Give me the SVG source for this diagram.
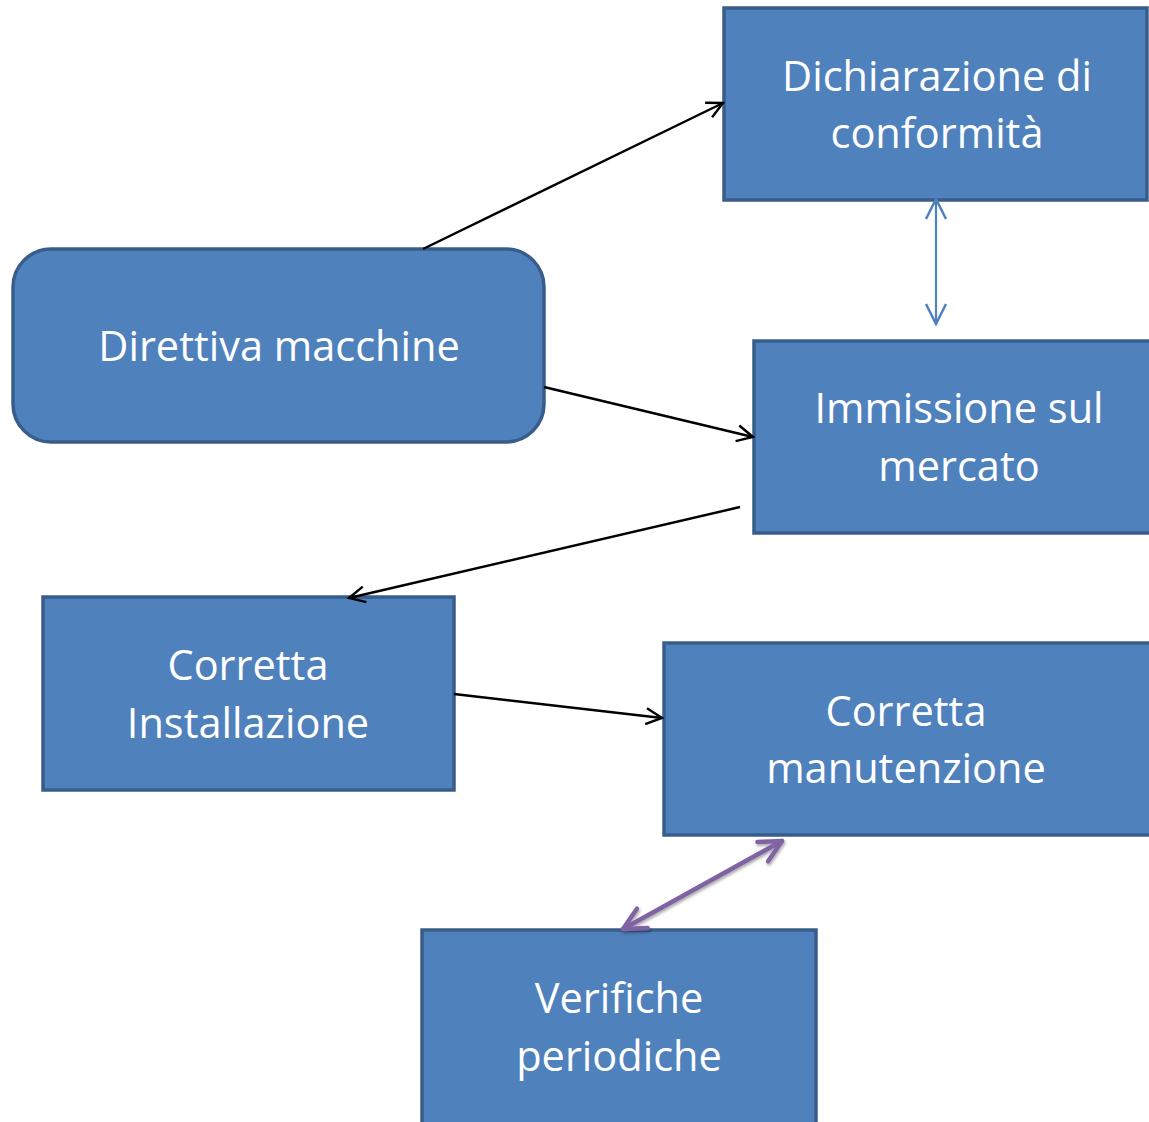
<svg xmlns="http://www.w3.org/2000/svg" width="1149" height="1122" viewBox="0 0 1149 1122">
<style>
.box{fill:#4F81BD;stroke:#385D8A;stroke-width:3.5}
.t{font-family:"Open Sans","Liberation Sans",sans-serif;font-size:41.5px;fill:#fff;text-anchor:middle}
.c{fill:none;stroke:#000;stroke-width:2.4}
</style>
<defs>
<marker id="ah" viewBox="0 0 20 20" refX="18" refY="10" markerWidth="20" markerHeight="20" markerUnits="userSpaceOnUse" orient="auto-start-reverse">
<path d="M2,2 L18,10 L2,18" fill="none" stroke="#000" stroke-width="2.4"/>
</marker>
<marker id="ab" viewBox="0 0 24 24" refX="22" refY="12" markerWidth="24" markerHeight="24" markerUnits="userSpaceOnUse" orient="auto-start-reverse">
<path d="M2,2 L22,12 L2,22" fill="none" stroke="#4F81BD" stroke-width="2.5"/>
</marker>
<marker id="ap" viewBox="0 0 28 28" refX="25" refY="14" markerWidth="28" markerHeight="28" markerUnits="userSpaceOnUse" orient="auto-start-reverse">
<path d="M3,3 L25,14 L3,25" fill="none" stroke="#8064A2" stroke-width="4.5" stroke-linecap="round" stroke-linejoin="round"/>
</marker>
<filter id="sh" x="-20%" y="-20%" width="140%" height="140%">
<feDropShadow dx="1" dy="2" stdDeviation="1.5" flood-opacity="0.35"/>
</filter>
</defs>
<g id="n-dichiarazione"><rect class="box" x="724" y="8" width="423" height="192"/><text class="t" x="937" y="91">Dichiarazione di</text><text class="t" x="937" y="148">conformità</text></g>
<g id="n-direttiva"><rect class="box" x="13" y="249" width="531" height="193" rx="38"/><text class="t" x="279" y="361">Direttiva macchine</text></g>
<g id="n-immissione"><rect class="box" x="754" y="341" width="400" height="192"/><text class="t" x="959" y="423">Immissione sul</text><text class="t" x="959" y="481">mercato</text></g>
<g id="n-installazione"><rect class="box" x="43" y="597" width="411" height="193"/><text class="t" x="248" y="680">Corretta</text><text class="t" x="248" y="738">Installazione</text></g>
<g id="n-manutenzione"><rect class="box" x="664" y="643" width="490" height="192"/><text class="t" x="906" y="726">Corretta</text><text class="t" x="906" y="783">manutenzione</text></g>
<g id="n-verifiche"><rect class="box" x="422" y="930" width="394" height="200"/><text class="t" x="619" y="1013">Verifiche</text><text class="t" x="619" y="1071">periodiche</text></g>
<g id="connectors">
<line class="c" x1="423" y1="249" x2="723" y2="103" marker-end="url(#ah)"/>
<line class="c" x1="544" y1="387" x2="753" y2="437" marker-end="url(#ah)"/>
<line class="c" x1="740" y1="507" x2="349" y2="598" marker-end="url(#ah)"/>
<line class="c" x1="454" y1="694" x2="662" y2="718" marker-end="url(#ah)"/>
<line x1="936" y1="199" x2="936" y2="324" stroke="#4F81BD" stroke-width="2.2" marker-start="url(#ab)" marker-end="url(#ab)"/>
<line x1="782" y1="841" x2="623" y2="929" stroke="#8064A2" stroke-width="4.5" stroke-linecap="round" marker-start="url(#ap)" marker-end="url(#ap)" filter="url(#sh)"/>
</g>
</svg>
